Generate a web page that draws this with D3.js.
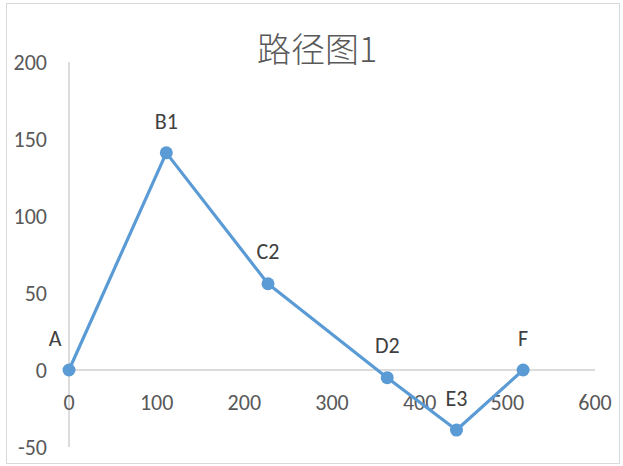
<!DOCTYPE html>
<html>
<head>
<meta charset="utf-8">
<script src="https://cdn.jsdelivr.net/npm/d3@7"></script>
<style>
  body { margin: 0; background: #fff; }
  svg { display: block; }
</style>
</head>
<body>
<div id="chart"></div>
<script>
// path points (x, y)
var pointNames = ["A", "B1", "C2", "D2", "E3", "F"];
var xValues = [0, 111, 227, 363, 442, 518];
var yValues = [0, 141, 56, -5, -39, 0];
var xTicks = [0, 100, 200, 300, 400, 500, 600];
var yTicks = [-50, 0, 50, 100, 150, 200];
var chartTitle = "路径图1";

var width = 623, height = 466;
var font = "Calibri, Carlito, 'Noto Sans CJK SC', 'Liberation Sans', sans-serif";

var svg = d3.select("#chart").append("svg")
  .attr("width", width)
  .attr("height", height);

// outer frame
svg.append("rect")
  .attr("x", 6.5).attr("y", 3.5)
  .attr("width", 613).attr("height", 460)
  .attr("fill", "#fff")
  .attr("stroke", "#d9d9d9");

var x = d3.scaleLinear().domain([0, 600]).range([69, 595]);
var y = d3.scaleLinear().domain([-50, 200]).range([447, 62]);

svg.append("text")
  .attr("x", 317).attr("y", 62)
  .attr("text-anchor", "middle")
  .attr("fill", "#595959")
  .style("font-family", "'Noto Sans CJK SC', sans-serif")
  .style("font-weight", 300)
  .style("font-size", "34px")
  .text(chartTitle);

// y axis line
svg.append("line")
  .attr("x1", x(0)).attr("x2", x(0))
  .attr("y1", y(200)).attr("y2", y(-50))
  .attr("stroke", "#d0d0d0").attr("stroke-width", 1.5);

// x axis line at y = 0
svg.append("line")
  .attr("x1", x(0)).attr("x2", x(600))
  .attr("y1", y(0)).attr("y2", y(0))
  .attr("stroke", "#d0d0d0").attr("stroke-width", 1.5);

svg.selectAll(".ylab")
  .data(yTicks).enter()
  .append("text")
  .attr("class", "ylab")
  .attr("x", 47)
  .attr("y", (d) => y(d))
  .attr("dy", "0.35em")
  .attr("text-anchor", "end")
  .attr("fill", "#595959")
  .style("font-family", font)
  .style("font-size", "22px")
  .text((d) => d);

svg.selectAll(".xlab")
  .data(xTicks).enter()
  .append("text")
  .attr("class", "xlab")
  .attr("x", (d) => x(d))
  .attr("y", y(0) + 32)
  .attr("dy", "0.35em")
  .attr("text-anchor", "middle")
  .attr("fill", "#595959")
  .style("font-family", font)
  .style("font-size", "22px")
  .text((d) => d);

var pts = pointNames.map((n, i) => ({ name: n, x: xValues[i], y: yValues[i] }));

var line = d3.line()
  .x((d) => x(d.x))
  .y((d) => y(d.y));

svg.append("path")
  .datum(pts)
  .attr("d", line)
  .attr("fill", "none")
  .attr("stroke", "#5b9bd5")
  .attr("stroke-width", 3.2)
  .attr("stroke-linejoin", "round");

svg.selectAll(".dot")
  .data(pts).enter()
  .append("circle")
  .attr("class", "dot")
  .attr("cx", (d) => x(d.x))
  .attr("cy", (d) => y(d.y))
  .attr("r", 6.5)
  .attr("fill", "#5b9bd5");

svg.selectAll(".plab")
  .data(pts).enter()
  .append("text")
  .attr("class", "plab")
  .attr("x", (d) => x(d.x) + (d.name == "A" ? -14 : 0))
  .attr("y", (d) => y(d.y) - 32)
  .attr("dy", "0.35em")
  .attr("text-anchor", "middle")
  .attr("fill", "#404040")
  .style("font-family", font)
  .style("font-size", "22px")
  .text((d) => d.name);
</script>
</body>
</html>
